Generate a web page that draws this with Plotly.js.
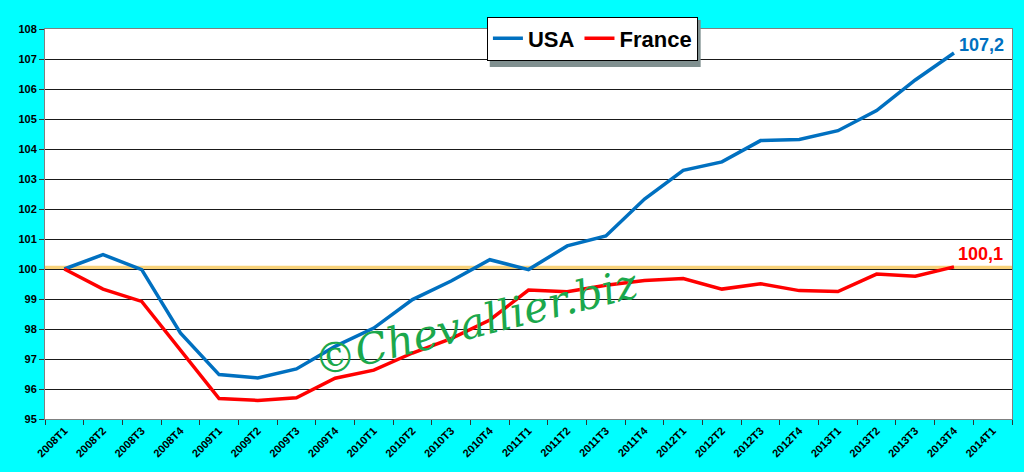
<!DOCTYPE html>
<html>
<head>
<meta charset="utf-8">
<script src="https://cdn.plot.ly/plotly-3.0.1.min.js"></script>
<style>
html,body{margin:0;padding:0;background:#00FFFF;}
#chart{width:1024px;height:472px;}
</style>
</head>
<body>
<div id="chart"></div>
<script>
var categories = ["2008T1","2008T2","2008T3","2008T4","2009T1","2009T2","2009T3","2009T4",
  "2010T1","2010T2","2010T3","2010T4","2011T1","2011T2","2011T3","2011T4",
  "2012T1","2012T2","2012T3","2012T4","2013T1","2013T2","2013T3","2013T4","2014T1"];
var usa = [100, 100.48, 99.98, 97.87, 96.48, 96.37, 96.67, 97.42,
  98.03, 98.98, 99.6, 100.31, 99.98, 100.77, 101.1, 102.33,
  103.29, 103.57, 104.28, 104.32, 104.61, 105.28, 106.3, 107.2, null];
var france = [100, 99.33, 98.92, 97.32, 95.68, 95.62, 95.71, 96.36,
  96.63, 97.2, 97.68, 98.3, 99.3, 99.24, 99.46, 99.62,
  99.68, 99.33, 99.51, 99.28, 99.25, 99.83, 99.76, 100.07, null];
var baseline = 100;
var usaLabel = "107,2";
var franceLabel = "100,1";
var watermark = "©Chevallier.biz";

var font = "Liberation Sans, Arial, sans-serif";
var traces = [
  {x: categories, y: usa, name: "USA", type: "scatter", mode: "lines",
   line: {color: "#0070C0", width: 3.5}},
  {x: categories, y: france, name: "France", type: "scatter", mode: "lines",
   line: {color: "#FF0000", width: 3.5}}
];
var layout = {
  width: 1024, height: 472,
  paper_bgcolor: "#00FFFF", plot_bgcolor: "#FFFFFF",
  margin: {l: 45, r: 11.5, t: 29, b: 53, pad: 0},
  showlegend: true,
  legend: {orientation: "h", x: 0.457, y: 1.032, xanchor: "left", yanchor: "top",
    bgcolor: "#FFFFFF", bordercolor: "#000000", borderwidth: 1,
    font: {family: font, size: 22, color: "#000000", weight: "bold"},
    itemwidth: 30, tracegroupgap: 0},
  xaxis: {type: "category", range: [-0.5, 24.5], tickson: "boundaries",
    ticks: "outside", ticklen: 5, tickcolor: "#333333",
    showline: true, linecolor: "#808080", linewidth: 1, mirror: true,
    showgrid: false, tickangle: -45, fixedrange: true,
    tickfont: {family: font, size: 11, color: "#000000", weight: "bold"}},
  yaxis: {range: [95, 108], dtick: 1, ticks: "outside", ticklen: 5, tickcolor: "#333333",
    showline: true, linecolor: "#808080", linewidth: 1, mirror: true,
    showgrid: true, gridcolor: "#1a1a1a", gridwidth: 1, zeroline: false,
    tickfont: {family: font, size: 11, color: "#000000", weight: "bold"}},
  shapes: [
    {type: "line", xref: "paper", x0: 0, x1: 1, yref: "y", y0: baseline + 0.04, y1: baseline + 0.04,
     line: {color: "#F8D27A", width: 4}, layer: "below"},
    {type: "rect", xref: "paper", yref: "paper",
     x0: (490 - 45) / 967.5, x1: (701 - 45) / 967.5,
     y0: (419 - 67) / 390, y1: (419 - 20) / 390,
     fillcolor: "#7f8f8f", line: {width: 0}, layer: "above"}
  ],
  annotations: [
    {x: 23, y: usa[23], xref: "x", yref: "y", text: "<b>" + usaLabel + "</b>",
     showarrow: false, xanchor: "left", yanchor: "middle", xshift: 3, yshift: 8,
     font: {family: font, size: 18, color: "#0070C0"}},
    {x: 23, y: france[23], xref: "x", yref: "y", text: "<b>" + franceLabel + "</b>",
     showarrow: false, xanchor: "left", yanchor: "middle", xshift: 2, yshift: 13,
     font: {family: font, size: 18, color: "#FF0000"}},
    {x: (476 - 45) / 967.5, y: (419 - 322) / 390, xref: "paper", yref: "paper",
     xanchor: "center", yanchor: "middle",
     text: watermark, showarrow: false, textangle: -14,
     font: {family: "DejaVu Serif, serif", size: 42, color: "#1BA84C", style: "italic"}}
  ]
};
Plotly.newPlot("chart", traces, layout, {displayModeBar: false, staticPlot: true});
</script>
</body>
</html>
